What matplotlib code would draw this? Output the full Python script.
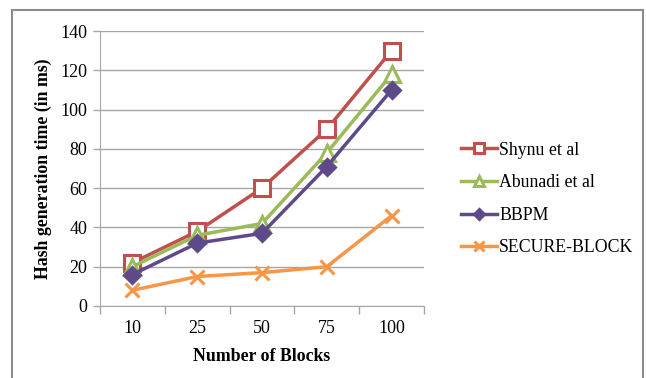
import matplotlib
matplotlib.use("Agg")
import matplotlib.pyplot as plt
from matplotlib.patches import Rectangle

categories = ["10", "25", "50", "75", "100"]
shynu = [22, 38, 60, 90, 130]
abunadi = [20, 36, 42, 78, 118]
bbpm = [16, 32, 37, 71, 110]
secure = [8, 15, 17, 20, 46]
y_ticks = [0, 20, 40, 60, 80, 100, 120, 140]

plt.rcParams["font.family"] = ["Liberation Serif", "DejaVu Serif"]

W, H = 646, 378
fig = plt.figure(figsize=(W / 100, H / 100), dpi=100, facecolor="white")

# outer chart border (Excel style)
fig.patches.append(Rectangle((12 / W, -0.05), (643 - 12) / W, 1.05 - 10 / H,
                             transform=fig.transFigure, fill=False,
                             edgecolor="#8c8c8c", linewidth=1.5))

ax = fig.add_axes([100 / W, 1 - 306 / H, (424 - 100) / W, (306 - 31) / H])

grid_c = "#a6a6a6"
xs = list(range(len(categories)))
series = [
    ("Shynu et al", shynu, "#C0504D", "s", 11, "white"),
    ("Abunadi et al", abunadi, "#9BBB59", "^", 11, "white"),
    ("BBPM", bbpm, "#5E4A8A", "D", 8, "#5E4A8A"),
    ("SECURE-BLOCK", secure, "#F79646", "x", 10, "#F79646"),
]
for label, vals, color, marker, ms, mfc in series:
    ax.plot(xs, vals, color=color, linewidth=2.5, marker=marker,
            markersize=ms, markerfacecolor=mfc, markeredgecolor=color,
            markeredgewidth=2.2, label=label, zorder=3, clip_on=False)

ax.set_xlim(-0.5, len(categories) - 0.5)
ax.set_ylim(0, 140)
ax.set_yticks(y_ticks)
ax.set_yticklabels([str(v) for v in y_ticks])
ax.yaxis.grid(True, color=grid_c, linewidth=1.0, zorder=0)
ax.set_axisbelow(True)

# category ticks at boundaries, labels at centres
ax.set_xticks([i - 0.5 for i in range(len(categories) + 1)])
ax.set_xticklabels([])
ax.set_xticks(xs, minor=True)
ax.set_xticklabels(categories, minor=True)
ax.tick_params(axis="x", which="major", length=6, color=grid_c, width=1)
ax.tick_params(axis="x", which="minor", length=0, pad=10, labelsize=13)
ax.tick_params(axis="y", length=5, color=grid_c, width=1, labelsize=13, pad=4)

for s in ("top", "right"):
    ax.spines[s].set_visible(False)
ax.spines["left"].set_color(grid_c)
ax.spines["bottom"].set_color(grid_c)

ax.set_xlabel("Number of Blocks", fontsize=12.8, fontweight="bold", labelpad=8)
ax.set_ylabel("Hash generation time (in ms)", fontsize=12.8, fontweight="bold",
              labelpad=6)

ax.legend(loc="center left", bbox_to_anchor=(445 / W, 1 - 199 / H),
          bbox_transform=fig.transFigure, frameon=False, fontsize=12.8,
          handlelength=2.0, handletextpad=0.15, labelspacing=0.88,
          markerscale=0.7)

fig.savefig("out.png", dpi=100, facecolor="white")
